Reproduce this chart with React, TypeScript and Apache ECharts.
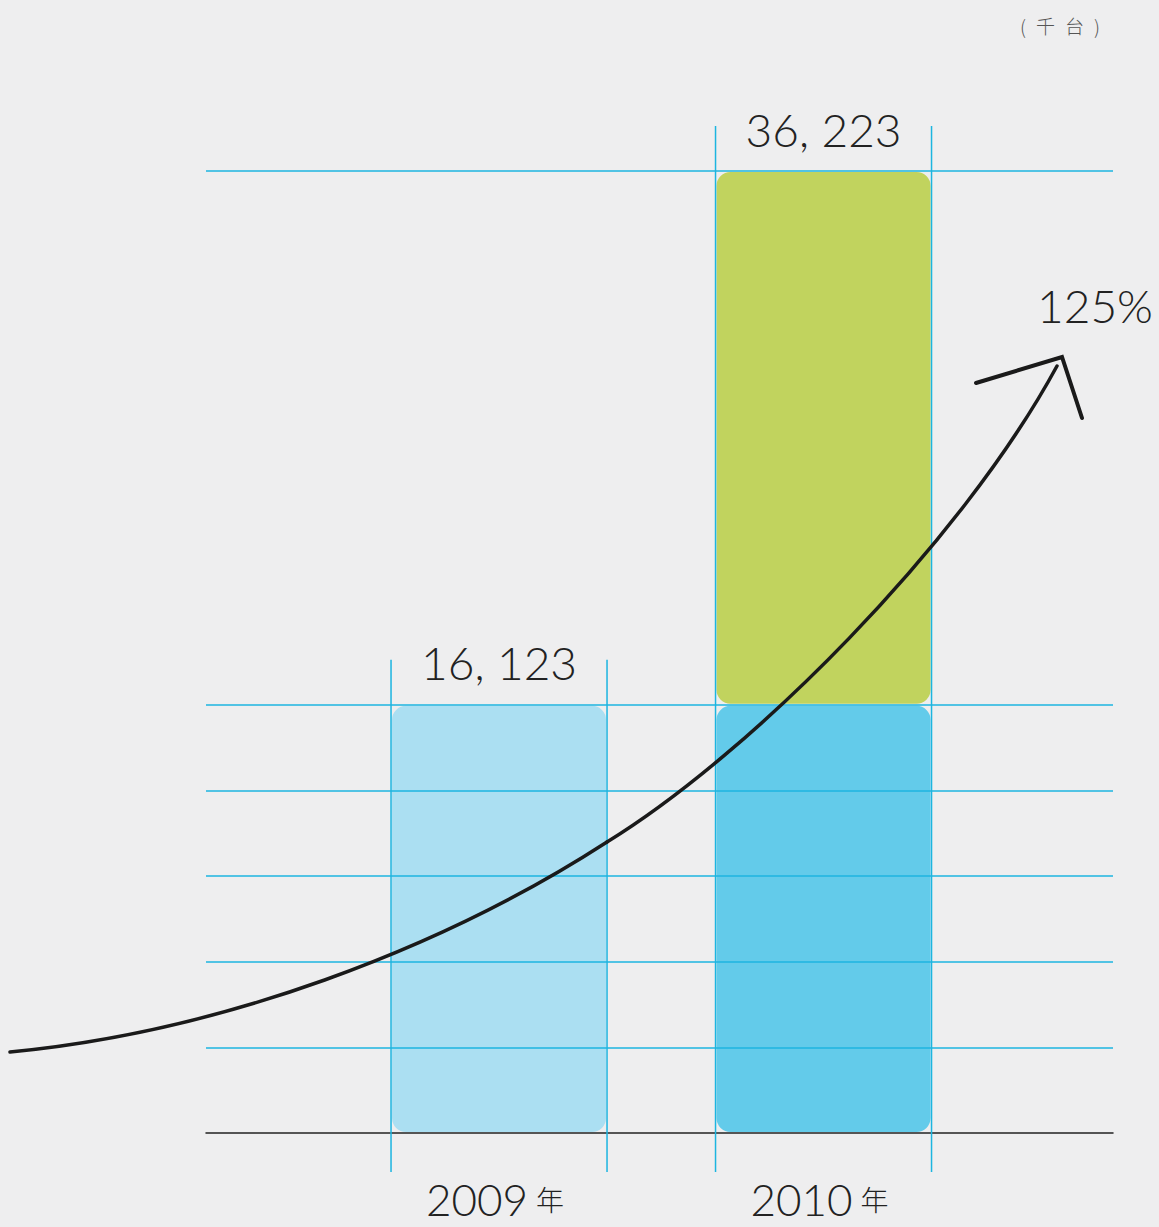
import React, { useEffect, useRef } from "react";
import * as echarts from "echarts";

// ---- data ----
const categories = ["2009年", "2010年"];
const categoryPos = [1, 2];
const totals = [16123, 36223];
const baseValues = [16123, 16123];
const growthValues = [0, 20100];
const refLineValues = [3225, 6449, 9674, 12898, 16123, 36223];
const growthLabel = "125%";
const unitChars = ["(", "千", "台", ")"];

const baseColors = ["#abdff2", "#63cbea"];
const growthColor = "#c1d35e";

const fmt = (v: number) => v.toLocaleString("en-US").replace(",", ", ");

export default function App() {
  const ref = useRef<HTMLDivElement>(null);
  useEffect(() => {
    document.body.style.margin = "0";
    const chart = echarts.init(ref.current!, undefined, { renderer: "svg" });
    const hand = "Lato";
    const cyan = "#1cb5e0";
    const BAR_W = 216;

    // segments: [x, low, high, colorIdx]
    const segments: any[] = [];
    categoryPos.forEach((x, i) => {
      segments.push([x, 0, baseValues[i], i]);
      if (growthValues[i] > 0) segments.push([x, baseValues[i], baseValues[i] + growthValues[i], 2]);
    });
    const colors = [...baseColors, growthColor];
    const ink = { stroke: "#1a1a1a", lineWidth: 3.5, fill: null, lineCap: "round" };

    const option: any = {
      animation: false,
      backgroundColor: "#eeeeef",
      grid: { left: 206, right: 46, top: 171, bottom: 94 },
      xAxis: {
        type: "value",
        min: 0.097,
        max: 2.892,
        axisLine: { show: true, onZero: true, lineStyle: { color: "#222", width: 1.5 } },
        axisTick: { show: false },
        axisLabel: { show: false },
        splitLine: { show: false },
      },
      yAxis: {
        type: "value",
        min: 0,
        max: totals[1],
        axisLine: { show: false },
        axisTick: { show: false },
        axisLabel: { show: false },
        splitLine: { show: false },
      },
      series: [
        {
          type: "custom",
          name: "bars",
          z: 2,
          data: segments,
          renderItem: (params: any, api: any) => {
            const x = api.value(0);
            const lo = api.coord([x, api.value(1)]);
            const hi = api.coord([x, api.value(2)]);
            const c = colors[api.value(3)];
            return {
              type: "rect",
              shape: { x: lo[0] - BAR_W / 2 + 1, y: hi[1] + 1, width: BAR_W - 2, height: lo[1] - hi[1] - 2, r: 14 },
              style: { fill: c },
            };
          },
          markLine: {
            silent: true,
            symbol: "none",
            label: { show: false },
            lineStyle: { color: cyan, width: 1.5, type: "solid" },
            data: refLineValues.map((v) => ({ yAxis: v })),
          },
        },
        {
          type: "custom",
          name: "guides",
          clip: false,
          z: 10,
          data: categoryPos.map((x, i) => [x, totals[i], i]),
          renderItem: (params: any, api: any) => {
            const x = api.value(0);
            const top = api.coord([x, api.value(1)]);
            const base = api.coord([x, 0]);
            const idx = api.value(2);
            const half = BAR_W / 2;
            const ls = { stroke: cyan, lineWidth: 1.5 };
            return {
              type: "group",
              children: [
                {
                  type: "line",
                  shape: { x1: top[0] - half, y1: top[1] - 45, x2: top[0] - half, y2: base[1] + 39 },
                  style: ls,
                },
                {
                  type: "line",
                  shape: { x1: top[0] + half, y1: top[1] - 45, x2: top[0] + half, y2: base[1] + 39 },
                  style: ls,
                },
                {
                  type: "text",
                  x: top[0],
                  y: top[1] - 42,
                  style: {
                    text: fmt(totals[idx]),
                    fontFamily: hand,
                    fontWeight: 300,
                    fontSize: 46,
                    fill: "#222",
                    align: "center",
                    verticalAlign: "middle",
                  },
                },
                {
                  type: "text",
                  x: top[0] - 4,
                  y: base[1] + 66,
                  style: {
                    text: "{n|" + categories[idx].replace("年", "") + "}{y|年}",
                    rich: {
                      n: { fontFamily: hand, fontWeight: 300, fontSize: 44, lineHeight: 46, fill: "#222" },
                      y: { fontFamily: "Noto Sans CJK SC", fontWeight: 300, fontSize: 28, lineHeight: 46, fill: "#222", padding: [0, 0, 0, 8] },
                    },
                    align: "center",
                    verticalAlign: "middle",
                  },
                },
              ],
            };
          },
        },
      ],
      graphic: [
        {
          type: "bezierCurve",
          z: 20,
          shape: { x1: 10, y1: 1052, cpx1: 220, cpy1: 1032, cpx2: 440, cpy2: 950, x2: 607, y2: 842 },
          style: ink,
        },
        {
          type: "bezierCurve",
          z: 20,
          shape: { x1: 607, y1: 842, cpx1: 750, cpy1: 754, cpx2: 960, cpy2: 545, x2: 1057, y2: 366 },
          style: ink,
        },
        {
          type: "polyline",
          z: 20,
          shape: { points: [[976, 383], [1062, 357], [1082, 418]] },
          style: { stroke: "#1a1a1a", lineWidth: 4, fill: null, lineCap: "round", lineJoin: "miter" },
        },
        {
          type: "text",
          z: 20,
          x: 1095,
          y: 305,
          style: {
            text: growthLabel,
            fontFamily: hand,
            fontWeight: 300,
            fontSize: 46,
            fill: "#222",
            align: "center",
            verticalAlign: "middle",
          },
        },
        {
          type: "text",
          z: 20,
          x: 1060,
          y: 25,
          style: {
            text: unitChars.map((c) => "{c|" + c + "}").join(""),
            rich: {
              c: { fontFamily: "Noto Sans CJK SC", fontWeight: 300, fontSize: 19, fill: "#555", padding: [0, 5, 0, 5] },
            },
            align: "center",
            verticalAlign: "middle",
          },
        },
      ],
    };
    chart.setOption(option);
    return () => chart.dispose();
  }, []);
  return <div ref={ref} style={{ width: 1159, height: 1227 }} />;
}
